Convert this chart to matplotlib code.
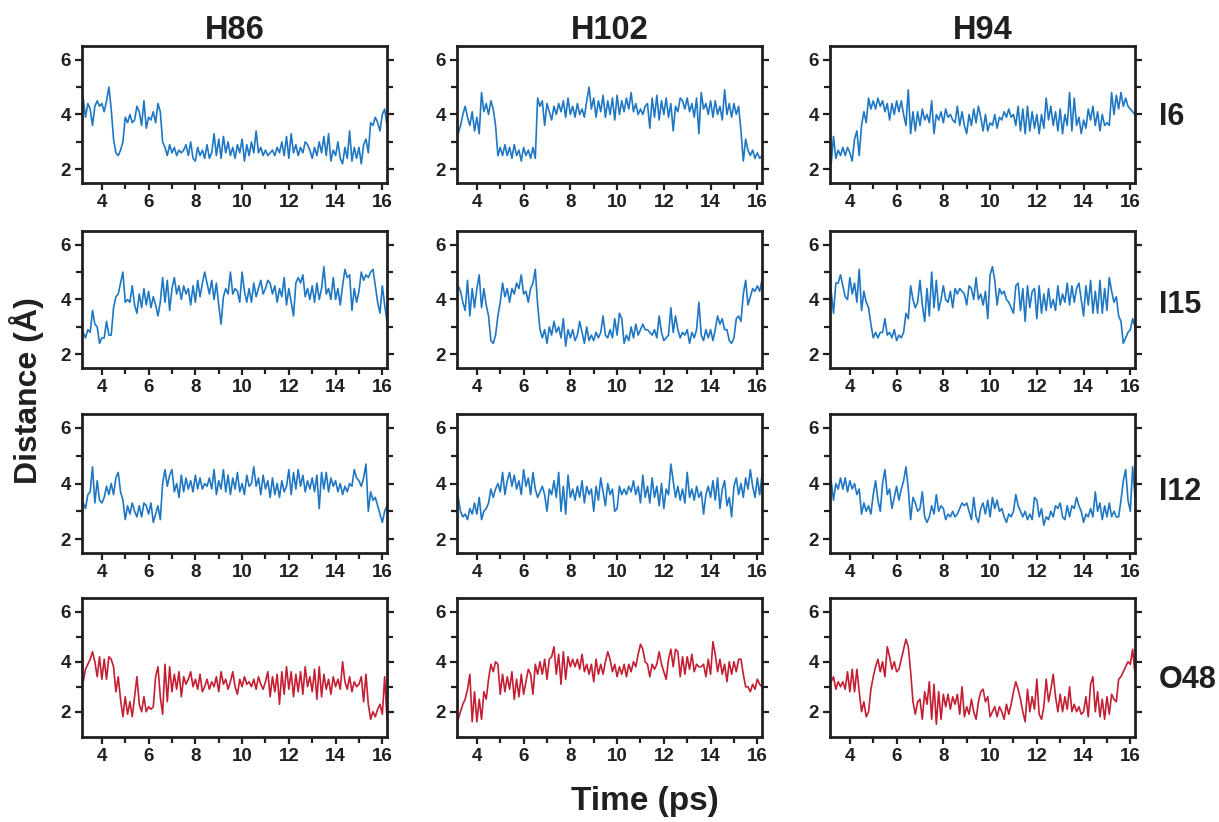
import numpy as np
import matplotlib.pyplot as plt
from matplotlib.ticker import MultipleLocator, FixedLocator

plt.rcParams['font.family'] = ['Liberation Sans', 'DejaVu Sans']
plt.rcParams['font.weight'] = 'bold'

# sampling grid, 3.2 .. 16.2 ps every 0.1 ps
time_ps = np.arange(32, 163) / 10.0

# --- distance traces (Å), one list per donor/acceptor pair ---
h86_i6 = [4.6, 3.9, 4.4, 4.2, 3.6, 4.3, 4.5, 4.3,
          4.4, 4.1, 4.5, 5.0, 4.2, 3.1, 2.6, 2.5, 2.7, 3.0,
          3.9, 3.7, 4.0, 3.7, 3.8, 4.3, 4.1, 3.6, 4.5, 3.5,
          3.9, 3.8, 4.1, 3.7, 4.4, 4.1, 3.0, 2.8, 2.5, 2.9,
          2.6, 2.8, 2.5, 2.7, 2.6, 2.7, 2.9, 2.5, 3.0, 2.4,
          2.3, 2.8, 2.5, 2.7, 2.4, 2.9, 2.4, 2.6, 3.3, 2.5,
          3.1, 2.4, 3.2, 2.6, 3.0, 2.5, 2.8, 2.4, 2.9, 2.6,
          3.1, 2.3, 2.9, 2.5, 3.0, 2.6, 3.4, 2.6, 2.8, 2.5,
          2.7, 2.5, 2.6, 2.7, 2.5, 2.8, 2.6, 3.0, 2.5, 3.2,
          2.4, 3.3, 2.6, 2.9, 2.5, 2.8, 2.6, 3.0, 2.9, 2.7,
          2.4, 2.8, 2.5, 3.0, 2.6, 3.2, 2.5, 3.3, 2.3, 2.7,
          2.5, 3.0, 2.4, 2.2, 2.8, 2.4, 3.4, 2.3, 2.8, 2.4,
          2.8, 2.2, 2.9, 3.1, 2.6, 3.7, 3.6, 3.9, 3.7, 3.4,
          4.0, 4.2, 3.6]

h102_i6 = [3.3, 3.6, 4.0, 4.3, 3.9, 3.6, 4.1, 3.4,
           3.9, 3.3, 4.8, 4.1, 4.4, 4.0, 4.5, 4.2, 3.6, 2.5,
           2.8, 2.5, 2.9, 2.5, 2.8, 2.4, 2.9, 2.5, 2.7, 2.3,
           2.8, 2.5, 2.7, 2.4, 2.8, 2.4, 4.6, 4.3, 4.5, 3.6,
           4.4, 4.1, 3.8, 4.3, 4.0, 4.4, 4.1, 4.5, 3.9, 4.6,
           4.0, 4.3, 3.9, 4.4, 4.0, 4.2, 3.9, 4.5, 5.0, 4.2,
           4.6, 3.9, 4.5, 4.1, 4.7, 3.9, 4.5, 4.0, 4.6, 3.8,
           4.7, 4.0, 4.5, 4.1, 4.6, 4.2, 4.8, 4.1, 4.4, 4.0,
           4.2, 4.0, 4.3, 4.4, 3.5, 4.6, 3.9, 4.7, 3.8, 4.5,
           4.0, 4.6, 3.9, 4.4, 3.4, 4.3, 4.1, 4.6, 4.5, 4.2,
           4.6, 4.1, 4.4, 3.9, 4.6, 3.3, 4.8, 4.2, 4.4, 4.0,
           4.5, 3.9, 4.5, 4.0, 4.3, 3.8, 4.9, 4.0, 4.4, 3.9,
           4.4, 4.0, 4.3, 3.4, 2.3, 3.1, 2.7, 2.5, 2.7, 2.4,
           2.6, 2.4, 2.5]

h94_i6 = [2.2, 3.2, 2.4, 2.7, 2.5, 2.8, 2.5, 2.8,
          2.6, 2.3, 3.1, 3.4, 2.5, 3.6, 4.1, 3.7, 4.6, 4.2,
          4.5, 4.2, 4.6, 4.3, 4.5, 4.1, 4.4, 3.8, 4.4, 4.0,
          4.5, 4.1, 4.5, 4.0, 3.6, 4.9, 3.3, 4.1, 3.4, 4.1,
          3.6, 4.2, 3.8, 4.0, 3.7, 4.5, 3.3, 4.0, 3.8, 4.1,
          3.7, 4.2, 3.9, 4.0, 3.8, 3.7, 4.3, 3.6, 4.1, 3.6,
          3.3, 4.0, 3.6, 4.2, 3.7, 4.3, 3.9, 3.4, 4.0, 3.4,
          3.7, 3.6, 4.0, 3.5, 3.9, 3.8, 4.1, 3.9, 4.2, 3.9,
          4.0, 3.6, 4.3, 3.4, 4.2, 3.3, 4.3, 3.4, 4.1, 3.5,
          4.0, 3.3, 4.0, 3.5, 4.6, 3.8, 4.3, 3.6, 4.1, 3.4,
          4.2, 3.3, 4.0, 3.6, 4.8, 3.4, 4.6, 3.6, 3.9, 3.3,
          3.8, 3.5, 4.2, 3.8, 4.3, 3.6, 4.1, 3.4, 4.0, 3.6,
          3.7, 3.6, 4.8, 4.0, 4.7, 4.2, 4.8, 4.3, 4.6, 4.3,
          4.2, 4.1, 4.0]

h86_i15 = [2.8, 2.6, 2.9, 2.8, 3.6, 3.1, 3.0, 2.4,
           2.6, 2.6, 3.2, 2.7, 2.7, 3.7, 4.1, 4.2, 4.6, 5.0,
           3.9, 4.0, 3.9, 4.5, 3.8, 3.5, 4.2, 3.7, 4.4, 3.8,
           4.3, 3.7, 4.1, 3.8, 3.4, 3.9, 4.8, 3.9, 4.7, 3.6,
           4.4, 4.8, 4.2, 4.5, 4.0, 4.5, 4.2, 4.4, 3.8, 4.5,
           3.9, 4.7, 4.1, 4.6, 5.0, 4.6, 4.2, 4.7, 4.0, 4.6,
           3.8, 3.1, 4.1, 4.4, 4.2, 5.0, 4.2, 4.4, 4.3, 3.9,
           5.0, 4.3, 3.9, 4.4, 3.9, 4.6, 4.1, 4.4, 4.7, 4.2,
           4.4, 4.7, 4.6, 4.2, 4.5, 3.9, 4.4, 4.1, 4.8, 3.8,
           4.4, 3.9, 3.4, 4.6, 4.8, 4.6, 4.9, 4.1, 4.4, 4.0,
           4.5, 3.9, 4.6, 4.0, 4.4, 5.2, 4.2, 4.4, 4.0, 4.8,
           4.0, 4.4, 3.8, 4.5, 5.1, 4.8, 4.9, 3.6, 4.4, 3.9,
           4.3, 5.0, 4.7, 4.9, 4.8, 5.0, 5.1, 4.5, 3.9, 3.5,
           4.5, 3.8, 3.2]

h102_i15 = [4.5, 4.3, 3.9, 3.6, 4.7, 3.4, 4.4, 3.7,
            4.4, 4.9, 3.7, 4.4, 3.8, 3.4, 2.5, 2.4, 2.7, 3.4,
            3.9, 4.6, 4.1, 4.4, 3.9, 4.4, 4.2, 4.6, 4.4, 4.9,
            4.2, 4.3, 3.9, 4.4, 4.6, 5.1, 3.8, 2.9, 2.6, 2.9,
            2.4, 3.0, 2.7, 3.2, 2.8, 3.0, 2.6, 3.3, 2.3, 2.9,
            2.6, 2.9, 2.5, 2.7, 3.2, 2.8, 2.4, 3.0, 2.5, 2.7,
            2.5, 2.8, 2.6, 2.8, 3.4, 2.7, 2.6, 2.9, 2.6, 3.3,
            2.7, 3.5, 3.3, 2.4, 2.7, 2.5, 3.0, 2.6, 3.1, 2.7,
            2.9, 3.1, 2.9, 2.9, 2.8, 2.7, 2.9, 2.6, 3.4, 2.8,
            2.5, 2.6, 2.7, 3.7, 2.8, 3.4, 2.9, 2.6, 2.8, 2.7,
            2.9, 2.4, 2.8, 2.6, 2.9, 3.9, 2.7, 2.5, 2.9, 2.6,
            2.9, 2.5, 2.9, 3.4, 3.1, 3.3, 2.9, 2.9, 2.5, 2.4,
            2.6, 3.3, 3.4, 3.2, 4.2, 4.7, 3.8, 4.1, 4.4, 4.3,
            4.5, 4.3, 4.7]

h94_i15 = [4.3, 3.5, 4.6, 4.6, 4.9, 4.5, 4.1, 4.0,
           4.8, 4.2, 4.6, 3.9, 5.1, 3.6, 4.3, 3.9, 3.7, 3.1,
           2.6, 2.8, 2.6, 2.8, 2.8, 3.3, 2.7, 2.8, 2.6, 2.9,
           2.5, 2.7, 2.6, 2.8, 3.5, 3.3, 4.5, 4.0, 3.7, 3.9,
           4.7, 3.8, 3.2, 4.4, 3.4, 5.0, 3.7, 4.7, 3.6, 4.0,
           4.5, 4.0, 3.9, 4.3, 3.7, 4.4, 4.2, 4.4, 4.3, 4.2,
           3.8, 4.5, 4.4, 4.0, 4.8, 4.0, 4.2, 3.8, 4.3, 3.3,
           4.9, 5.2, 4.7, 3.8, 4.4, 4.2, 4.3, 4.0, 3.9, 3.7,
           3.5, 4.5, 4.6, 3.6, 4.4, 3.2, 4.5, 3.7, 4.3, 4.4,
           3.3, 4.5, 3.5, 4.2, 3.6, 4.4, 3.7, 4.0, 3.6, 4.5,
           3.8, 4.2, 3.9, 4.6, 3.8, 4.5, 3.9, 4.4, 4.6, 4.0,
           3.4, 4.5, 3.8, 4.7, 3.5, 4.3, 3.5, 4.7, 3.5, 4.4,
           3.6, 4.8, 4.3, 3.9, 4.1, 3.4, 3.2, 2.4, 2.6, 2.8,
           2.9, 3.3, 3.0]

h86_i12 = [3.3, 3.1, 3.6, 3.7, 4.6, 3.3, 4.1, 3.4,
           3.3, 3.5, 3.9, 3.6, 4.0, 3.6, 4.2, 4.4, 3.7, 3.4,
           2.7, 3.2, 2.9, 3.3, 3.0, 2.8, 3.2, 2.8, 3.3, 3.2,
           2.9, 3.3, 2.6, 2.9, 3.2, 2.7, 4.0, 4.5, 3.9, 4.3,
           4.5, 3.7, 4.0, 3.5, 4.3, 3.7, 4.2, 3.8, 4.1, 3.7,
           4.3, 3.8, 4.2, 3.8, 4.0, 3.9, 4.2, 3.8, 4.5, 3.6,
           4.1, 3.8, 4.5, 3.7, 4.3, 3.6, 4.2, 3.8, 4.4, 3.7,
           4.0, 3.6, 4.3, 3.9, 4.0, 4.6, 3.9, 4.2, 3.6, 4.3,
           3.8, 4.1, 3.5, 4.2, 3.6, 4.0, 3.5, 4.1, 3.7, 3.9,
           4.5, 3.6, 4.4, 3.8, 4.5, 3.9, 4.3, 3.7, 4.1, 3.8,
           4.2, 3.7, 4.3, 3.1, 4.4, 3.8, 4.4, 3.7, 4.2, 3.9,
           4.1, 3.7, 4.0, 3.6, 3.9, 3.7, 4.0, 3.9, 4.5, 4.2,
           4.1, 3.9, 4.2, 4.7, 3.0, 3.7, 3.4, 3.5, 3.2, 2.9,
           2.6, 3.0, 3.2]

h102_i12 = [3.5, 3.0, 2.8, 2.9, 2.7, 3.1, 2.9, 3.3,
            2.9, 3.5, 2.7, 3.0, 3.1, 3.3, 3.8, 3.5, 3.8, 4.0,
            3.7, 4.4, 3.6, 4.1, 4.4, 3.9, 4.3, 3.8, 4.1, 3.6,
            4.5, 3.9, 4.2, 3.6, 4.4, 3.8, 3.5, 3.7, 3.9, 3.6,
            3.0, 3.8, 3.6, 4.1, 3.5, 4.4, 3.0, 3.9, 2.9, 4.3,
            3.5, 3.8, 3.4, 3.9, 3.5, 4.1, 3.3, 3.9, 3.6, 3.8,
            3.0, 3.9, 3.4, 4.2, 3.7, 3.2, 4.0, 3.6, 3.8, 3.0,
            3.1, 3.9, 3.6, 3.8, 3.6, 3.9, 3.7, 4.1, 3.6, 3.9,
            3.3, 4.3, 3.5, 3.9, 3.3, 4.2, 3.5, 3.9, 3.2, 4.0,
            3.1, 3.8, 3.6, 4.7, 4.1, 3.5, 3.9, 3.4, 3.8, 3.3,
            4.4, 3.5, 3.8, 3.4, 3.9, 3.5, 3.7, 2.9, 3.6, 3.9,
            3.5, 4.1, 3.4, 4.2, 3.1, 3.8, 4.1, 3.2, 3.5, 2.8,
            3.9, 4.2, 3.6, 4.0, 3.5, 4.2, 3.8, 4.5, 3.9, 3.5,
            4.2, 3.6, 4.3]

h94_i12 = [4.1, 3.4, 4.0, 3.8, 4.2, 3.8, 4.2, 3.7,
           4.1, 3.8, 4.0, 3.6, 3.8, 2.9, 3.3, 3.0, 3.2, 2.9,
           3.6, 4.1, 3.4, 3.0, 4.0, 4.5, 3.6, 3.8, 3.1, 3.5,
           3.9, 3.4, 3.8, 4.1, 4.6, 3.8, 2.7, 3.5, 3.3, 3.0,
           3.1, 3.7, 2.8, 2.6, 2.8, 3.2, 2.9, 3.6, 3.0, 3.2,
           3.1, 2.7, 2.9, 2.8, 3.0, 2.8, 2.9, 3.1, 3.3, 3.2,
           3.3, 3.0, 2.7, 3.5, 2.8, 2.6, 3.1, 3.3, 2.9, 3.4,
           2.8, 3.5, 3.1, 3.4, 3.0, 3.1, 2.8, 2.6, 2.9, 2.8,
           3.0, 3.6, 3.2, 3.0, 2.8, 3.0, 2.7, 2.9, 2.7, 3.5,
           3.4, 2.8, 3.1, 2.5, 2.8, 2.7, 3.0, 2.8, 3.2, 3.1,
           3.3, 2.8, 2.7, 3.2, 2.8, 3.2, 3.1, 3.5, 3.2, 3.0,
           2.6, 2.9, 2.8, 3.1, 2.8, 3.7, 3.0, 3.3, 2.7, 3.2,
           2.8, 3.3, 2.8, 3.0, 2.8, 2.8, 3.4, 4.1, 4.5, 3.4,
           3.0, 4.6, 3.5]

h86_o48 = [3.2, 3.7, 3.9, 4.1, 4.4, 4.0, 3.4, 4.2,
           3.3, 4.1, 3.3, 4.2, 4.1, 3.8, 2.8, 3.4, 2.5, 1.8,
           2.6, 1.9, 2.4, 1.8, 2.6, 3.4, 2.3, 2.0, 2.6, 2.0,
           2.2, 2.1, 2.2, 3.4, 3.8, 2.6, 1.9, 3.9, 2.4, 3.8,
           2.8, 3.5, 2.9, 3.6, 2.6, 3.4, 3.1, 3.3, 3.6, 3.0,
           3.3, 2.9, 3.5, 2.8, 3.0, 3.3, 2.9, 3.2, 3.0, 3.4,
           2.8, 3.6, 3.1, 3.3, 2.9, 3.2, 3.6, 3.0, 2.7, 3.3,
           3.0, 3.4, 3.1, 3.2, 3.0, 3.3, 2.9, 3.4, 3.1, 2.9,
           3.2, 3.6, 2.6, 3.4, 2.8, 3.5, 2.3, 3.6, 2.7, 3.8,
           2.9, 3.6, 2.6, 3.5, 2.8, 3.6, 2.7, 3.8, 3.0, 3.4,
           2.8, 3.7, 2.5, 3.8, 2.6, 3.5, 2.9, 3.3, 2.7, 3.4,
           3.0, 3.3, 2.9, 4.0, 3.2, 2.9, 3.4, 2.8, 3.2, 3.0,
           3.1, 3.4, 2.4, 3.5, 2.3, 1.7, 2.0, 1.8, 2.1, 2.3,
           1.9, 3.4, 1.7]

h102_o48 = [1.7, 2.0, 2.3, 2.5, 2.9, 3.5, 1.6, 2.8,
            1.6, 2.5, 1.7, 2.8, 2.5, 3.3, 3.9, 3.6, 4.0, 3.9,
            2.7, 3.5, 2.8, 3.4, 2.9, 3.6, 2.5, 3.3, 2.6, 3.5,
            2.7, 3.2, 3.7, 3.5, 2.7, 3.9, 3.5, 4.0, 3.5, 4.1,
            3.3, 4.1, 4.2, 4.6, 3.5, 4.3, 3.1, 4.4, 3.3, 4.2,
            3.8, 4.1, 3.8, 4.1, 3.7, 4.3, 3.6, 3.9, 3.5, 3.9,
            3.2, 4.1, 3.5, 3.9, 3.5, 4.0, 4.4, 4.1, 3.6, 3.9,
            3.4, 3.8, 3.5, 3.9, 3.4, 3.9, 3.6, 4.0, 3.8, 4.3,
            4.7, 4.5, 4.0, 3.9, 3.4, 3.9, 3.7, 3.9, 4.4, 3.9,
            3.6, 3.3, 4.1, 4.5, 3.8, 4.5, 4.4, 3.4, 4.2, 3.5,
            4.2, 3.7, 4.3, 3.6, 3.9, 3.8, 3.8, 3.9, 3.4, 4.1,
            3.5, 4.8, 4.3, 3.6, 4.1, 3.5, 3.9, 3.2, 4.0, 3.5,
            4.0, 3.6, 4.1, 4.1, 3.5, 3.0, 3.0, 2.8, 3.1, 2.9,
            3.3, 3.1, 3.0]

h94_o48 = [3.2, 3.4, 2.9, 3.2, 3.0, 3.2, 2.9, 3.6,
           2.8, 3.7, 2.8, 3.7, 2.8, 2.0, 2.4, 1.8, 2.0, 2.9,
           3.4, 3.8, 4.1, 3.6, 4.0, 3.4, 4.6, 4.2, 3.7, 4.0,
           3.6, 3.7, 4.1, 4.5, 4.9, 4.6, 3.6, 2.4, 1.9, 2.4,
           2.5, 1.7, 2.8, 2.3, 3.2, 1.7, 3.1, 1.5, 2.8, 1.7,
           2.7, 2.2, 2.7, 2.1, 2.6, 2.3, 2.7, 1.9, 3.0, 1.8,
           2.2, 1.9, 2.5, 2.0, 1.7, 2.4, 2.8, 2.9, 2.4, 2.6,
           1.8, 2.0, 2.2, 1.8, 2.2, 2.0, 1.7, 2.3, 1.9, 2.3,
           2.8, 3.2, 2.9, 2.5, 2.0, 1.6, 2.9, 2.0, 2.6, 2.1,
           3.3, 1.9, 1.7, 2.2, 3.3, 2.4, 2.9, 3.5, 2.6, 2.0,
           2.7, 2.0, 2.6, 2.1, 3.0, 2.0, 2.3, 2.0, 2.2, 1.9,
           2.0, 2.6, 1.8, 3.1, 3.4, 2.0, 2.8, 1.8, 2.5, 1.7,
           2.6, 1.9, 2.7, 2.5, 2.4, 3.3, 3.4, 3.6, 3.8, 4.0,
           3.9, 4.5, 3.5]

col_names = ['H86', 'H102', 'H94']
row_names = ['I6', 'I15', 'I12', 'O48']
traces = [[h86_i6, h102_i6, h94_i6],
          [h86_i15, h102_i15, h94_i15],
          [h86_i12, h102_i12, h94_i12],
          [h86_o48, h102_o48, h94_o48]]
row_colors = ['#1f77c3', '#1f77c3', '#1f77c3', '#c41e32']
row_ylim = [(1.5, 6.5), (1.5, 6.5), (1.5, 6.5), (0.99, 6.55)]

ink = '#231f20'

W, H = 1219, 822
fig = plt.figure(figsize=(W / 100, H / 100), dpi=100)

# panel boxes in pixels
col_left = [82, 457, 830]
panel_w = 305
row_top = [46, 231, 414, 598]
row_bot = [183, 368, 553, 737]
# vertical centre of the row names on the right
row_label_y = [117, 305, 492, 680]

for r in range(4):
    for c in range(3):
        y = traces[r][c]
        assert len(y) == len(time_ps)
        rect = [col_left[c] / W, 1 - row_bot[r] / H,
                panel_w / W, (row_bot[r] - row_top[r]) / H]
        ax = fig.add_axes(rect)
        ax.plot(time_ps, y, color=row_colors[r], lw=1.2)
        ax.set_xlim(3.15, 16.2)
        ax.set_ylim(*row_ylim[r])
        ax.xaxis.set_major_locator(FixedLocator([4, 6, 8, 10, 12, 14, 16]))
        ax.xaxis.set_minor_locator(MultipleLocator(1))
        ax.yaxis.set_major_locator(FixedLocator([2, 4, 6]))
        ax.yaxis.set_minor_locator(FixedLocator([3, 5]))
        for sp in ax.spines.values():
            sp.set_linewidth(2)
            sp.set_color(ink)
        ax.tick_params(which='both', direction='out', width=1.6, color=ink,
                       top=False, right=True, labelright=False)
        ax.tick_params(which='major', length=5, labelsize=13.5,
                       labelcolor=ink, pad=3)
        ax.tick_params(which='minor', length=4)
        for lab in ax.get_xticklabels() + ax.get_yticklabels():
            lab.set_fontweight('bold')
        if r == 0:
            ax.set_title(col_names[c], fontsize=23.5, fontweight='bold',
                         color=ink, pad=4)
        if c == 2:
            fig.text((col_left[c] + panel_w + 24) / W,
                     1 - row_label_y[r] / H,
                     row_names[r], fontsize=22, fontweight='bold',
                     color=ink, ha='left', va='center')

fig.text(27 / W, 1 - 391 / H, 'Distance (Å)', rotation=90, fontsize=23,
         fontweight='bold', color=ink, ha='center', va='center')
fig.text(645 / W, 1 - 801 / H, 'Time (ps)', fontsize=24,
         fontweight='bold', color=ink, ha='center', va='center')

fig.savefig('out.png', dpi=100)
